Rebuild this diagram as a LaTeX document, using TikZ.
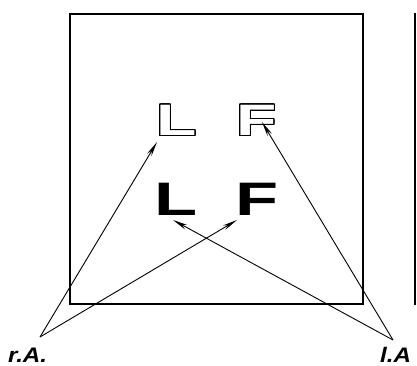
\documentclass[tikz,border=0pt]{standalone}
\usepackage{fontspec}
\setmainfont{Liberation Sans}
\newfontfamily\letterfont[FakeStretch=1.5]{Liberation Sans}
\newfontfamily\lblfont[FakeStretch=1.15]{Liberation Sans}
\usepackage[copies]{contour}
\contourlength{1.3pt}
\contournumber{32}
\usetikzlibrary{arrows.meta}
\tikzset{
  frame/.style={line width=2.8pt, line join=miter},
  ptr/.style={line width=0.9pt, -{Stealth[length=15pt,width=5pt]}},
  hollow/.style={inner sep=0pt, anchor=base, font=\letterfont\fontsize{44}{44}\selectfont\bfseries},
  solid/.style={inner sep=0pt, anchor=base, font=\letterfont\fontsize{47}{47}\selectfont\bfseries},
  lbl/.style={inner sep=0pt, anchor=base west, font=\lblfont\fontsize{21}{21}\selectfont\bfseries\itshape}
}
\begin{document}
\begin{tikzpicture}[x=1pt,y=-1pt]
\useasboundingbox (0,0) rectangle (417,365);
% frame
\draw[frame] (70,14) rectangle (363,304);
\draw[line width=2pt] (415,13) -- (415,305);
% letters
\node[hollow] (oL) at (176.5,135.5) {\contour{black}{\textcolor{white}{L}}};
\node[hollow] (oF) at (256.5,135.5) {\contour{black}{\textcolor{white}{F}}};
\node[solid] (bL) at (176,215) {L};
\node[solid] (bF) at (257,215) {F};
% labels
\node[lbl] (rAl) at (8,362) {r.A.};
\node[lbl] (lAl) at (380,362) {l.A};
% apex points and targets
\coordinate (rA) at (40,337);
\coordinate (lA) at (393,340);
\coordinate (toL) at (157,142);
\coordinate (tbF) at (237,220);
\coordinate (toF) at (262,122);
\coordinate (tbL) at (173,220);
\draw[ptr] (rA) -- (toL);
\draw[ptr] (rA) -- (tbF);
\draw[ptr] (lA) -- (toF);
\draw[ptr] (lA) -- (tbL);
\end{tikzpicture}
\end{document}
